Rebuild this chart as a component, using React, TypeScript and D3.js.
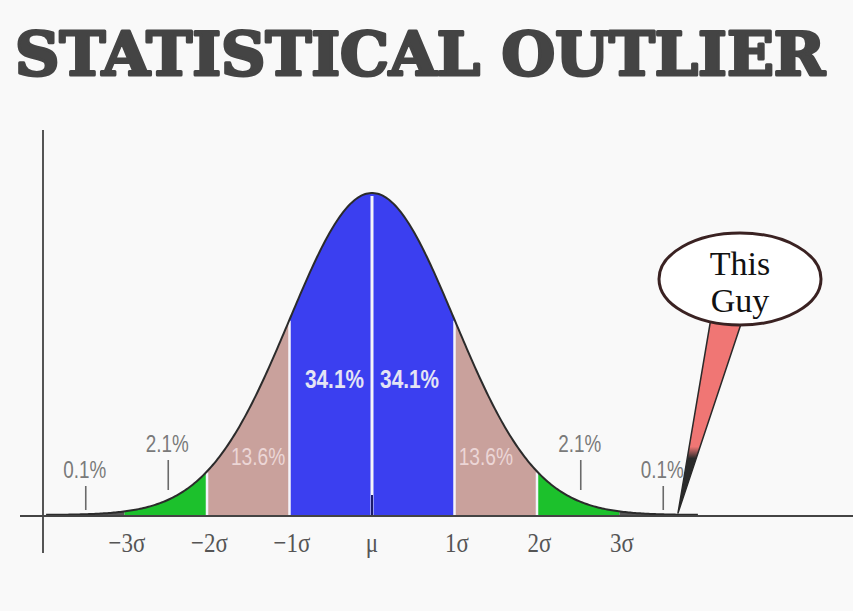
import * as d3 from "d3";

const W = 853;
const H = 611;

// sigma axis
const sigmaTicks = [-3, -2, -1, 0, 1, 2, 3];
const sigmaLabels = ["−3σ", "−2σ", "−1σ", "μ", "1σ", "2σ", "3σ"];

// bands between sigma lines
const bandStarts = [-4, -3, -2, -1, 0, 1, 2, 3];
const bandEnds = [-3, -2, -1, 0, 1, 2, 3, 4];
const bandShares = ["0.1%", "2.1%", "13.6%", "34.1%", "34.1%", "13.6%", "2.1%", "0.1%"];
const bandColors = ["#555555", "#1cc12c", "#c9a19c", "#3b3ff0", "#3b3ff0", "#c9a19c", "#1cc12c", "#555555"];

const title = "STATISTICAL OUTLIER";
const calloutLines = ["This", "Guy"];

const pdf = (z: number) => Math.exp((-z * z) / 2) / Math.sqrt(2 * Math.PI);

export default function App() {
  const x = d3.scaleLinear().domain([-4, 4]).range([372 - 4 * 82.5, 372 + 4 * 82.5]);
  const y = d3.scaleLinear().domain([0, pdf(0)]).range([515, 193]);

  const area = d3
    .area<number>()
    .x((z) => x(z))
    .y0(y(0))
    .y1((z) => y(pdf(z)));
  const line = d3
    .line<number>()
    .x((z) => x(z))
    .y((z) => y(pdf(z)));

  const curveZ = d3.range(-3.95, 3.951, 0.02);

  const sans = "'Liberation Sans', Arial, sans-serif";
  const serif = "'Liberation Serif', 'Times New Roman', serif";

  // narrow text: squeeze horizontally around its anchor
  function narrow(cx: number, cy: number, k: number) {
    return `translate(${cx},${cy}) scale(${k},1)`;
  }

  function bandLabel(i: number) {
    const s = bandShares[i];
    const mid = (bandStarts[i] + bandEnds[i]) / 2;
    const side = Math.sign(mid);
    const outer = Math.abs(mid) > 2;
    if (outer) {
      const far = Math.abs(mid) > 3;
      const lx = x(mid) + 1.5;
      const base = far ? 478 : 452;
      return (
        <g key={`lab-${i}`}>
          <text transform={narrow(lx, base, 0.82)} textAnchor="middle" fontFamily={sans} fontSize={23} fill="#7a7a7a">
            {s}
          </text>
          <line x1={lx + 1} x2={lx + 1} y1={base + 8} y2={base + (far ? 32 : 38)} stroke="#6a6a6a" strokeWidth={1.6} />
        </g>
      );
    }
    const inner = Math.abs(mid) < 1;
    const z = inner ? mid * 0.91 : mid - side * 0.12;
    return (
      <text
        key={`lab-${i}`}
        transform={narrow(x(z), inner ? 388 : 465, 0.8)}
        textAnchor="middle"
        fontFamily={sans}
        fontSize={inner ? 26 : 24}
        fontWeight={inner ? "bold" : "normal"}
        fill={inner ? "#e4e4f4" : "#ecd6d6"}
      >
        {s}
      </text>
    );
  }

  return (
    <svg
      width={W}
      height={H}
      style={{ position: "absolute", left: 0, top: 0, display: "block" }}
    >
      <defs>
        <linearGradient id="tail" x1="0" y1="0" x2="0" y2="1">
          <stop offset="0%" stopColor="#f07674" />
          <stop offset="66%" stopColor="#f07674" />
          <stop offset="72%" stopColor="#2a2a2a" />
          <stop offset="100%" stopColor="#2a2a2a" />
        </linearGradient>
      </defs>
      <rect width={W} height={H} fill="#f9f9f9" />

      <text
        x={15}
        y={75}
        textLength={810}
        lengthAdjust="spacingAndGlyphs"
        fontFamily="'DejaVu Serif', serif"
        fontWeight="bold"
        fontSize={59}
        fill="#444444"
        stroke="#444444"
        strokeWidth={3}
        strokeLinejoin="round"
      >
        {title}
      </text>

      {/* bands */}
      {bandStarts.map((s, i) => {
        const zs = curveZ.filter((z) => z >= Math.max(s, -3.95) && z <= Math.min(bandEnds[i], 3.95));
        const pts = [Math.max(s, -3.95), ...zs, Math.min(bandEnds[i], 3.95)];
        return <path key={`band-${i}`} d={area(pts) ?? ""} fill={bandColors[i]} />;
      })}

      {/* white separators */}
      {sigmaTicks
        .filter((t) => Math.abs(t) <= 2)
        .map((t) => (
          <line
            key={`sep-${t}`}
            x1={x(t)}
            x2={x(t)}
            y1={y(pdf(t)) + (t === 0 ? 3 : 1)}
            y2={y(0)}
            stroke="#f4f4fa"
            strokeWidth={t === 0 ? 3 : 2.5}
          />
        ))}
      <line x1={x(0)} x2={x(0)} y1={y(0) - 20} y2={y(0)} stroke="#1a1a6a" strokeWidth={2} />

      {/* curve */}
      <path d={line(curveZ) ?? ""} fill="none" stroke="#2b2b2b" strokeWidth={2} />

      {/* axes */}
      <line x1={43} x2={43} y1={130} y2={553} stroke="#555" strokeWidth={2} />
      <line x1={20} x2={W} y1={516} y2={516} stroke="#444" strokeWidth={2} />

      {bandStarts.map((_, i) => bandLabel(i))}

      {sigmaTicks.map((t, i) => (
        <text
          key={`sig-${t}`}
          transform={narrow(x(t) + (t === 0 ? 0 : 2.5), 552, 0.82)}
          textAnchor="middle"
          fontFamily={serif}
          fontSize={28}
          fill="#555"
        >
          {sigmaLabels[i]}
        </text>
      ))}

      {/* callout */}
      <path
        d={`M711,318 L743,318 L678,513 Z`}
        fill="url(#tail)"
        stroke="#2a2a2a"
        strokeWidth={1.5}
        strokeLinejoin="round"
      />
      <ellipse cx={740} cy={279} rx={81} ry={46} fill="#ffffff" stroke="#3a2222" strokeWidth={3} />
      {calloutLines.map((t, i) => (
        <text
          key={t}
          x={740}
          y={275 + i * 37}
          textAnchor="middle"
          fontFamily={serif}
          fontSize={34}
          fill="#111"
        >
          {t}
        </text>
      ))}
    </svg>
  );
}
